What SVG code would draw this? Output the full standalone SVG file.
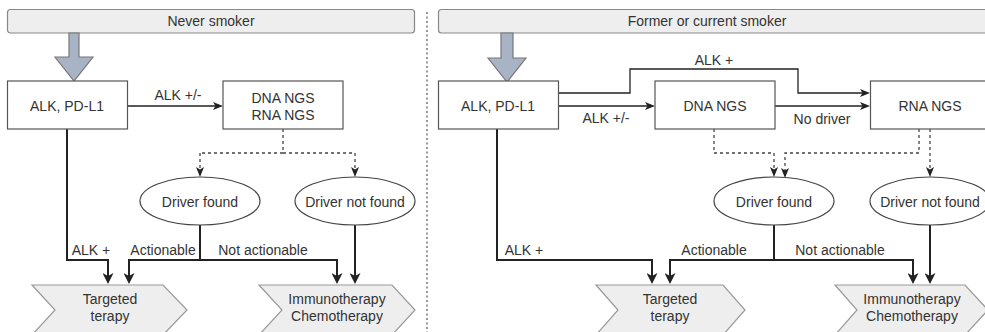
<svg xmlns="http://www.w3.org/2000/svg" width="985" height="332" viewBox="0 0 985 332">
<style>
text{font-family:"Liberation Sans",Arial,sans-serif;font-size:14px;fill:#333;text-anchor:middle}
.hdr{fill:#eeeeee;stroke:#888;stroke-width:1.2}
.box{fill:#fff;stroke:#555;stroke-width:1.2}
.ell{fill:#fff;stroke:#444;stroke-width:1.2}
.chev{fill:#eeeeee;stroke:#999;stroke-width:1.2}
.big{fill:#a8b3c5;stroke:#777;stroke-width:1.2}
.thin{fill:none;stroke:#222;stroke-width:1.3;marker-end:url(#mt)}
.dash{fill:none;stroke:#444;stroke-width:1.3;stroke-dasharray:3,3;marker-end:url(#mt)}
.dashn{fill:none;stroke:#444;stroke-width:1.3;stroke-dasharray:3,3}
.thick{fill:none;stroke:#222;stroke-width:2;marker-end:url(#mk)}
.thickn{fill:none;stroke:#222;stroke-width:2}
.plain{fill:none;stroke:#222;stroke-width:1.3}
</style>
<defs>
<marker id="mt" viewBox="0 0 10 8" markerWidth="10" markerHeight="8" refX="7" refY="4" orient="auto" markerUnits="userSpaceOnUse">
<path d="M0,0 L10,4 L0,8 L2.5,4 z" fill="#222"/>
</marker>
<marker id="mk" viewBox="0 0 11 11" markerWidth="11" markerHeight="11" refX="8" refY="5.5" orient="auto" markerUnits="userSpaceOnUse">
<path d="M0,0 L11,5.5 L0,11 L3,5.5 z" fill="#222"/>
</marker>
</defs>
<rect width="985" height="332" fill="#fff"/>

<line x1="427" y1="12" x2="427" y2="332" stroke="#555" stroke-width="1.2" stroke-dasharray="2,2.5"/>

<g id="hdr-never"><rect class="hdr" x="7.5" y="9.5" width="407" height="23.5" rx="3"/><text x="211" y="26">Never smoker</text></g>
<g id="hdr-former"><rect class="hdr" x="438.5" y="9.5" width="560" height="23.5" rx="3"/><text x="707" y="26">Former or current smoker</text></g>

<g id="bigarrow-left"><polygon class="big" points="69,33 79,33 79,57 93,57 74,81 55,57 69,57"/></g>
<g id="bigarrow-right"><polygon class="big" points="501,33 513,33 513,58 526,58 507,82 488,58 501,58"/></g>

<g id="connectors">
<!-- left -->
<path class="thin" d="M127,106 H220"/>
<path class="dashn" d="M283,129 V153 H200"/>
<path class="dash" d="M200,153 V174"/>
<path class="dash" d="M283,153 H355 V174"/>
<path class="thick" d="M67,129 V260 H108 V281"/>
<path class="thickn" d="M200,225 V260"/>
<path class="thick" d="M200,260 H129 V281"/>
<path class="thick" d="M200,260 H337 V281"/>
<path class="thick" d="M355,225 V281"/>
<!-- right -->
<path class="thin" d="M559,93 H630 V69 H798 V93 H867"/>
<path class="thin" d="M559,106 H652"/>
<path class="thin" d="M775,106 H867"/>
<path class="dash" d="M714,129 V153 H774 V174"/>
<path class="dash" d="M919,129 V153 H785 V175"/>
<path class="dash" d="M930,129 V174"/>
<path class="thick" d="M497,129 V260 H652 V281"/>
<path class="thickn" d="M774,225 V260"/>
<path class="thick" d="M774,260 H670 V281"/>
<path class="thick" d="M774,260 H913 V281"/>
<path class="thick" d="M930,225 V281"/>
</g>

<g id="lbl-left">
<text x="178" y="100">ALK +/-</text>
<text x="91" y="255">ALK +</text>
<text x="163" y="255">Actionable</text>
<text x="263" y="255">Not actionable</text>
</g>
<g id="lbl-right">
<text x="714" y="65">ALK +</text>
<text x="606" y="123">ALK +/-</text>
<text x="822" y="124">No driver</text>
<text x="524" y="255">ALK +</text>
<text x="714" y="255">Actionable</text>
<text x="840" y="255">Not actionable</text>
</g>

<g id="alk-left"><rect class="box" x="7.5" y="81" width="120" height="48"/><text x="67" y="111">ALK, PD-L1</text></g>
<g id="ngs-left"><rect class="box" x="223" y="81" width="120" height="48"/><text x="283" y="103">DNA NGS</text><text x="283" y="120">RNA NGS</text></g>
<g id="found-left"><ellipse class="ell" cx="200" cy="201" rx="60" ry="24"/><text x="200" y="207">Driver found</text></g>
<g id="notfound-left"><ellipse class="ell" cx="355" cy="201" rx="60" ry="24"/><text x="355" y="207">Driver not found</text></g>
<g id="targeted-left"><polygon class="chev" points="32,285 163,285 187,310 163,335 32,335 55,310"/><text x="110" y="304">Targeted</text><text x="110" y="321">terapy</text></g>
<g id="immuno-left"><polygon class="chev" points="259,285 392,285 415,310 392,335 259,335 282,310"/><text x="337" y="304">Immunotherapy</text><text x="337" y="321">Chemotherapy</text></g>

<g id="alk-right"><rect class="box" x="438.5" y="81" width="120" height="48"/><text x="498" y="111">ALK, PD-L1</text></g>
<g id="dna-right"><rect class="box" x="655" y="81" width="120" height="48"/><text x="715" y="111">DNA NGS</text></g>
<g id="rna-right"><rect class="box" x="870.5" y="81" width="120" height="48"/><text x="930" y="111">RNA NGS</text></g>
<g id="found-right"><ellipse class="ell" cx="774" cy="201" rx="60" ry="24"/><text x="774" y="207">Driver found</text></g>
<g id="notfound-right"><ellipse class="ell" cx="930" cy="201" rx="60" ry="24"/><text x="930" y="207">Driver not found</text></g>
<g id="targeted-right"><polygon class="chev" points="596,285 723,285 745,310 723,335 596,335 618,310"/><text x="670" y="304">Targeted</text><text x="670" y="321">terapy</text></g>
<g id="immuno-right"><polygon class="chev" points="835,285 965,285 988,310 965,335 835,335 857,310"/><text x="912" y="304">Immunotherapy</text><text x="912" y="321">Chemotherapy</text></g>
</svg>
